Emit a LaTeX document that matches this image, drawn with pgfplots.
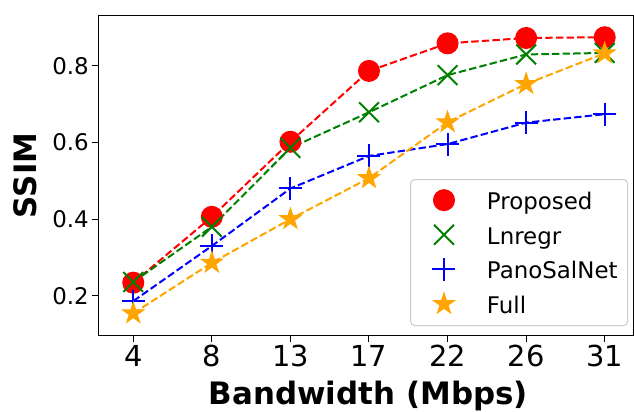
\documentclass[border=0pt]{standalone}
\usepackage{fontspec}
\setmainfont{DejaVu Sans}
\usepackage{pgfplots}
\pgfplotsset{compat=1.18}
\definecolor{mplgreen}{HTML}{008000}
\definecolor{mplorange}{HTML}{FFA500}
\definecolor{legedge}{HTML}{CCCCCC}
\pgfdeclareplotmark{fstar}{%
  \pgfpathmoveto{\pgfpointpolar{90}{\pgfplotmarksize}}%
  \pgfpathlineto{\pgfpointpolar{126}{0.381966\pgfplotmarksize}}%
  \pgfpathlineto{\pgfpointpolar{162}{\pgfplotmarksize}}%
  \pgfpathlineto{\pgfpointpolar{198}{0.381966\pgfplotmarksize}}%
  \pgfpathlineto{\pgfpointpolar{234}{\pgfplotmarksize}}%
  \pgfpathlineto{\pgfpointpolar{270}{0.381966\pgfplotmarksize}}%
  \pgfpathlineto{\pgfpointpolar{306}{\pgfplotmarksize}}%
  \pgfpathlineto{\pgfpointpolar{342}{0.381966\pgfplotmarksize}}%
  \pgfpathlineto{\pgfpointpolar{18}{\pgfplotmarksize}}%
  \pgfpathlineto{\pgfpointpolar{54}{0.381966\pgfplotmarksize}}%
  \pgfpathclose
  \pgfusepathqfillstroke
}
\begin{document}
\begin{tikzpicture}
\begin{axis}[
  scale only axis, width=534.7bp, height=320.7bp,
  xmin=-0.445, xmax=6.36, ymin=0.0956, ymax=0.933,
  xtick={0,...,6}, xticklabels={4,8,13,17,22,26,31},
  ytick={0.2,0.4,0.6,0.8},
  /pgf/number format/assume math mode=true,
  yticklabel style={/pgf/number format/fixed, /pgf/number format/precision=1, /pgf/number format/fixed zerofill, font=\fontsize{23}{23}\selectfont},
  xticklabel style={font=\fontsize{29}{29}\selectfont},
  tick align=outside, tick pos=left, major tick length=6bp,
  tick style={line width=1bp, black},
  axis line style={line width=1bp, black},
  xlabel={\bfseries Bandwidth (Mbps)},
  ylabel={\bfseries SSIM},
  label style={font=\fontsize{31}{31}\selectfont},
  xlabel style={at={(axis description cs:0.505,-0.2145)}, anchor=base},
  ylabel style={at={(axis description cs:-0.137,0.5)}, anchor=center},
  every axis plot/.append style={line width=2bp, dash pattern=on 7.4bp off 3.2bp},
  legend cell align=left,
  legend image code/.code={%
    \path[draw=none, fill=none] (0bp,-5bp) rectangle (46.7bp,17bp);
    \draw[#1, overlay, dash pattern=on 0pt off 200pt, mark repeat=2, mark phase=2] plot coordinates {(0bp,3.5bp) (23.3bp,3.5bp) (46.7bp,3.5bp)};
  },
  legend style={at={(axis description cs:0.9907,0.030)}, anchor=south east,
    font=\fontsize{23}{23}\selectfont, draw=legedge, line width=1bp,
    rounded corners=4bp, fill=white, inner xsep=10bp, inner ysep=7.1bp,
    row sep=6.6bp,
    nodes={inner sep=0pt, text height=17bp, text depth=5bp},
    /tikz/every odd column/.append style={column sep=19.6bp}},
]
\addplot[red, mark=*, mark size=10.5bp, mark options={solid, fill=red, line width=1bp}] coordinates {
(0,0.234) (1,0.406) (2,0.602) (3,0.787) (4,0.859) (5,0.873) (6,0.875)};
\addlegendentry{Proposed}
\addplot[mplgreen, mark=x, mark size=14bp, mark options={solid, line width=2bp}] coordinates {
(0,0.236) (1,0.380) (2,0.586) (3,0.679) (4,0.776) (5,0.830) (6,0.834)};
\addlegendentry{Lnregr}
\addplot[blue, mark=+, mark size=11.5bp, mark options={solid, line width=2bp}] coordinates {
(0,0.186) (1,0.330) (2,0.480) (3,0.565) (4,0.596) (5,0.652) (6,0.674)};
\addlegendentry{PanoSalNet}
\addplot[mplorange, mark=fstar, mark size=11bp, mark options={solid, fill=mplorange, line width=1bp}] coordinates {
(0,0.154) (1,0.286) (2,0.400) (3,0.507) (4,0.653) (5,0.753) (6,0.833)};
\addlegendentry{Full}
\end{axis}
\pgfresetboundingbox
\path (-98.3bp,-76.3bp) rectangle (535.7bp,335.7bp);
\end{tikzpicture}
\end{document}
